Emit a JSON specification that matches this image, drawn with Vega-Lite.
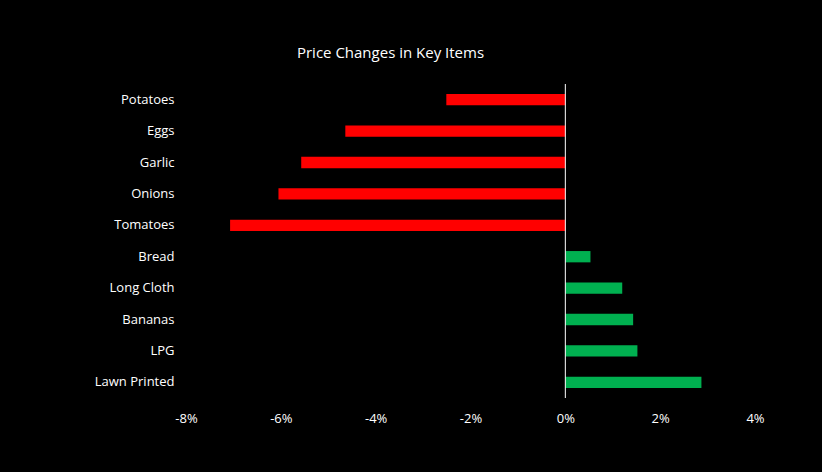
{
  "$schema": "https://vega.github.io/schema/vega-lite/v6.json",
  "width": 569,
  "height": 314,
  "autosize": {"type": "none"},
  "padding": {"left": 186, "top": 84, "right": 67, "bottom": 74},
  "background": "#000000",
  "config": {"view": {"stroke": null}, "font": "Open Sans"},
  "title": {"text": "Price Changes in Key Items", "color": "#ffffff", "fontSize": 15, "fontWeight": "normal", "font": "Open Sans", "dx": -80, "offset": 23},
  "data": {"values": [
    {"item": "Potatoes", "change": -2.51},
    {"item": "Eggs", "change": -4.64},
    {"item": "Garlic", "change": -5.57},
    {"item": "Onions", "change": -6.05},
    {"item": "Tomatoes", "change": -7.07},
    {"item": "Bread", "change": 0.53},
    {"item": "Long Cloth", "change": 1.2},
    {"item": "Bananas", "change": 1.43},
    {"item": "LPG", "change": 1.52},
    {"item": "Lawn Printed", "change": 2.87}
  ]},
  "layer": [
    {
      "mark": {"type": "bar"},
      "encoding": {
        "y": {"field": "item", "type": "nominal", "sort": null,
          "scale": {"paddingInner": 0.64, "paddingOuter": 0.32},
          "axis": {"title": null, "domain": false, "ticks": false, "labelColor": "#ffffff", "labelFontSize": 13, "labelPadding": 12, "labelFont": "Open Sans"}},
        "x": {"field": "change", "type": "quantitative",
          "scale": {"domain": [-8, 4], "nice": false},
          "axis": {"title": null, "grid": false, "domain": false, "ticks": false, "labelFlush": false, "values": [-8, -6, -4, -2, 0, 2, 4], "labelExpr": "datum.value + '%'", "labelColor": "#ffffff", "labelFontSize": 13, "labelPadding": 14, "labelFont": "Open Sans"}},
        "color": {"condition": {"test": "datum.change < 0", "value": "#ff0000"}, "value": "#00b050"}
      }
    },
    {
      "data": {"values": [{"zero": 0}]},
      "mark": {"type": "rule", "color": "#ffffff", "strokeWidth": 1},
      "encoding": {"x": {"field": "zero", "type": "quantitative"}}
    }
  ]
}
